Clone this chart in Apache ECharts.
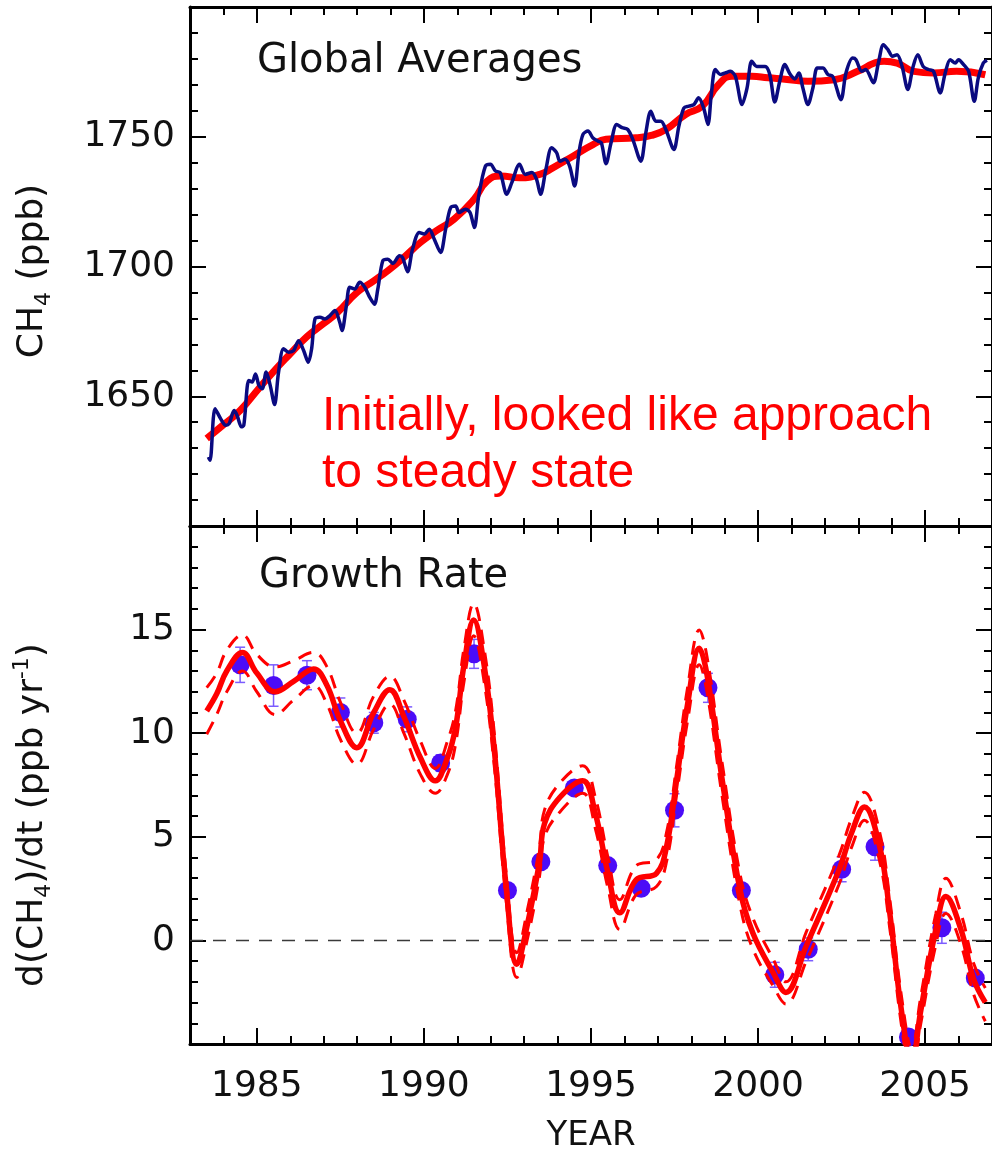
<!DOCTYPE html>
<html><head><meta charset="utf-8">
<script src="https://cdn.jsdelivr.net/npm/echarts@6.0.0/dist/echarts.min.js"></script>
<style>html,body{margin:0;padding:0;background:#fff}#chart{width:992px;height:1154px}</style>
</head><body><div id="chart"></div>
<script>
// ---------- data ----------
const majorYears = [1985, 1990, 1995, 2000, 2005];
const minorYears = [1984, 1986, 1987, 1988, 1989, 1991, 1992, 1993, 1994, 1996, 1997, 1998, 1999, 2001, 2002, 2003, 2004, 2006];

// Global average CH4 (ppb), blue curve [year, ppb]
const ch4Global = [[1983.55,1626.6],[1983.6,1625.3],[1983.75,1645.2],[1983.92,1641.3],[1984.07,1638.8],[1984.17,1639.4],[1984.32,1644.5],[1984.41,1642.6],[1984.54,1638.2],[1984.61,1638.8],[1984.76,1656.1],[1984.86,1655.5],[1984.96,1658.6],[1985.06,1654.2],[1985.16,1652.9],[1985.28,1659.3],[1985.4,1654.2],[1985.53,1646.8],[1985.65,1659.3],[1985.8,1668.3],[1985.95,1667],[1986.1,1667.6],[1986.25,1671.4],[1986.4,1667.6],[1986.54,1663.1],[1986.64,1668.3],[1986.74,1679.8],[1986.89,1680.4],[1987.04,1679.8],[1987.19,1681.1],[1987.34,1683],[1987.48,1678.5],[1987.55,1675.3],[1987.68,1684.9],[1987.78,1692],[1987.93,1691.3],[1988.08,1693.9],[1988.23,1692],[1988.38,1688.1],[1988.52,1685.5],[1988.62,1691.3],[1988.77,1702.2],[1988.92,1702.8],[1989.07,1701.2],[1989.27,1704.1],[1989.36,1703.5],[1989.51,1698],[1989.66,1706.7],[1989.86,1713.1],[1990.01,1712.5],[1990.16,1714.4],[1990.31,1710.5],[1990.5,1705.4],[1990.65,1714.4],[1990.8,1722.7],[1990.95,1723.3],[1991.05,1720.8],[1991.24,1722.1],[1991.38,1720.8],[1991.51,1715],[1991.64,1727.2],[1991.84,1738.7],[1991.99,1739.4],[1992.14,1736.8],[1992.28,1736.2],[1992.48,1727.8],[1992.63,1732.3],[1992.86,1739.4],[1993.03,1735.5],[1993.23,1736.2],[1993.37,1733.6],[1993.49,1727.8],[1993.65,1737.4],[1993.82,1745.8],[1993.97,1743.9],[1994.07,1740.6],[1994.22,1741.3],[1994.36,1738.7],[1994.51,1731],[1994.64,1743.9],[1994.76,1750.9],[1994.91,1752.2],[1995.06,1749.5],[1995.21,1748.3],[1995.31,1747.7],[1995.45,1739.6],[1995.6,1747.7],[1995.77,1754.7],[1995.93,1753.5],[1996.1,1752.8],[1996.25,1749],[1996.49,1740.6],[1996.64,1751.5],[1996.79,1759.8],[1996.94,1756],[1997.09,1756],[1997.24,1752.8],[1997.48,1745.1],[1997.63,1754.1],[1997.78,1761.1],[1997.93,1761.8],[1998.08,1762.4],[1998.22,1765],[1998.37,1761.1],[1998.5,1754.7],[1998.6,1766.3],[1998.72,1775.9],[1998.87,1774],[1999.02,1774.6],[1999.17,1775.2],[1999.32,1773.3],[1999.52,1762.4],[1999.67,1768.8],[1999.81,1779.1],[1999.96,1777.1],[2000.21,1777.1],[2000.35,1774],[2000.5,1763.4],[2000.65,1771.5],[2000.8,1777.8],[2000.95,1774.3],[2001.1,1772.3],[2001.22,1774.6],[2001.34,1768.8],[2001.49,1762.4],[2001.64,1768.8],[2001.77,1776.5],[2001.94,1776.5],[2002.09,1774],[2002.23,1773.3],[2002.48,1764.3],[2002.63,1774.6],[2002.83,1780.3],[2002.93,1779.7],[2003.1,1775.2],[2003.22,1775.9],[2003.45,1770.8],[2003.6,1778.4],[2003.75,1785.5],[2003.89,1783.5],[2004.02,1781],[2004.16,1781.6],[2004.31,1777.1],[2004.48,1768.2],[2004.64,1777.1],[2004.78,1781.6],[2004.94,1777.1],[2005.1,1775.9],[2005.25,1775.2],[2005.45,1766.9],[2005.6,1774.6],[2005.75,1779.7],[2005.9,1778.4],[2006,1779.7],[2006.15,1777.8],[2006.3,1775.2],[2006.47,1763.7],[2006.59,1772.7],[2006.74,1778.4],[2006.85,1779.5]];

// Smoothed trend (ppb), red curve [year, ppb]
const ch4Trend = [[1983.5,1633.7],[1984,1639],[1984.5,1644.5],[1985.06,1653],[1985.5,1659.5],[1985.95,1665.7],[1986.5,1673],[1987,1678],[1987.43,1682.5],[1988,1690],[1988.5,1694.5],[1988.92,1698.4],[1989.4,1703.5],[1989.9,1709.3],[1990.4,1714],[1990.9,1718.2],[1991.5,1725.9],[1991.89,1732.9],[1992.3,1734.9],[1992.87,1734.2],[1993.47,1735.5],[1993.87,1738.1],[1994.46,1742.5],[1995.06,1747],[1995.45,1749],[1996.34,1749.6],[1996.8,1750.5],[1997.24,1752.8],[1997.83,1758.6],[1998.33,1761.8],[1998.82,1770.1],[1999.22,1773.3],[1999.81,1773.3],[2000.3,1772.7],[2000.8,1772.2],[2001.49,1771.4],[2002.28,1772],[2002.98,1775.2],[2003.5,1778.5],[2003.77,1779.1],[2004.16,1778.4],[2004.66,1775.2],[2005.25,1774.6],[2005.94,1775.2],[2006.8,1773.9]];

// Growth rate curve (ppb/yr) with its uncertainty envelope
const growthYears = [1983.5,1983.8,1984.1,1984.57,1985.0,1985.55,1986.1,1986.7,1987.1,1987.5,1987.99,1988.5,1988.98,1989.4,1989.9,1990.34,1990.7,1990.95,1991.2,1991.49,1991.8,1992.1,1992.47,1992.78,1993.1,1993.46,1993.61,1994.07,1994.75,1995.13,1995.51,1995.86,1996.35,1996.96,1997.26,1997.56,1997.9,1998.24,1998.47,1998.93,1999.46,1999.84,2000.45,2000.83,2001.44,2002.42,2002.8,2003.18,2003.64,2003.94,2004.3,2004.6,2004.86,2005.32,2005.62,2006.07,2006.45,2006.8];
const growthRate  = [11.07,11.9,13.0,13.9,12.9,12.0,12.5,13.1,12.3,10.6,9.3,11.0,12.1,10.8,8.8,7.7,8.8,10.3,13.3,15.46,13.3,9.3,2.44,-1.15,0.8,3.8,5.64,6.91,7.71,6.12,3.24,1.33,2.92,3.24,4.52,7.71,11.5,14.1,12.83,7.71,2.44,0.37,-1.55,-2.51,-0.27,3.4,5.2,6.44,4.52,1.33,-3.5,-5.9,-3.47,0.53,2.12,0.53,-1.87,-2.99];
const growthUpper = [12.2,12.9,14.0,14.74,13.8,13.2,13.5,13.9,13.2,11.5,10.0,11.8,12.75,11.6,9.6,8.3,9.6,11.1,14.1,16.26,14.1,10.1,3.1,-0.6,1.5,4.5,6.3,7.6,8.43,6.9,4.0,1.96,3.6,3.9,5.2,8.4,12.3,14.98,13.7,8.5,3.2,1.1,-0.9,-2.0,0.4,4.1,5.9,7.15,5.2,2.0,-2.8,-5.2,-2.8,1.3,3.0,1.3,-1.1,-2.3];
const growthLower = [9.95,10.9,12.0,13.0,12.0,10.9,11.6,12.3,11.4,9.7,8.5,10.2,11.4,10.0,8.0,7.1,8.0,9.5,12.5,14.7,12.5,8.5,1.8,-1.79,0.1,3.1,5.0,6.2,7.1,5.4,2.5,0.53,2.2,2.6,3.8,7.0,10.7,13.3,12.0,6.9,1.7,-0.4,-2.2,-3.07,-1.0,2.7,4.5,5.8,3.8,0.6,-4.2,-6.6,-4.1,-0.2,1.3,-0.2,-2.6,-3.9];

// Annual growth rates (blue dots) with error bars
const annualYears  = [1984.5,1985.5,1986.5,1987.5,1988.5,1989.5,1990.5,1991.5,1992.5,1993.5,1994.5,1995.5,1996.5,1997.5,1998.5,1999.5,2000.5,2001.5,2002.5,2003.5,2004.5,2005.5,2006.5];
const annualRates  = [13.3,12.3,12.8,11.0,10.5,10.67,8.56,13.83,2.41,3.8,7.36,3.61,2.52,6.28,12.19,2.41,-1.66,-0.43,3.43,4.52,-4.66,0.61,-1.82];
const annualErrors = [0.85,1.0,0.7,0.7,0.5,0.6,0.4,0.7,0.3,0.3,0.3,0.3,0.3,0.8,0.7,0.3,0.6,0.55,0.6,0.65,0.3,0.75,0.3];

const topTicks = [1650, 1700, 1750];
const bottomTicks = [0, 5, 10, 15];

// ---------- chart ----------
const FONT = '"DejaVu Sans", sans-serif';
const X_MIN = 1983, X_MAX = 2007;
const chart = echarts.init(document.getElementById('chart'), null, {renderer: 'canvas'});

function zip(xs, ys) { return xs.map((x, i) => [x, ys[i]]); }

function xAx(gridIndex, position, ticks, len, showLine, extra) {
  return Object.assign({
    type: 'value', gridIndex, position, min: X_MIN, max: X_MAX,
    axisLine: {show: showLine, onZero: false, lineStyle: {color: '#000', width: 3}},
    axisTick: {show: true, inside: true, length: len, customValues: ticks, lineStyle: {color: '#000', width: 2}},
    axisLabel: {show: false},
    splitLine: {show: false}
  }, extra || {});
}
function yAx(gridIndex, position, min, max, interval, shown, withLabels) {
  return {
    type: 'value', gridIndex, position, min, max, interval,
    axisLine: {show: true, onZero: false, lineStyle: {color: '#000', width: 3}},
    axisTick: {show: true, inside: true, length: 16, lineStyle: {color: '#000', width: 2}},
    minorTick: {show: true, splitNumber: 5, length: 8, lineStyle: {color: '#000', width: 2}},
    axisLabel: {show: withLabels, margin: 15, fontSize: 36, fontFamily: FONT, color: '#111',
      formatter: v => shown.indexOf(v) >= 0 ? String(v) : ''},
    splitLine: {show: false}
  };
}

const option = {
  animation: false,
  backgroundColor: '#fff',
  grid: [
    {left: 190, top: 7, width: 806, height: 519},
    {left: 190, top: 526, width: 806, height: 519}
  ],
  xAxis: [
    xAx(0, 'bottom', majorYears, 16, true),
    xAx(0, 'bottom', minorYears, 8, false),
    xAx(0, 'top', majorYears, 16, true),
    xAx(0, 'top', minorYears, 8, false),
    xAx(1, 'bottom', majorYears, 16, true, {
      axisLabel: {show: true, customValues: majorYears, margin: 25, fontSize: 36, fontFamily: FONT, color: '#111',
        formatter: v => String(Math.round(v))},
      name: 'YEAR', nameLocation: 'middle', nameGap: 75,
      nameTextStyle: {fontSize: 34, fontFamily: FONT, color: '#111'}
    }),
    xAx(1, 'bottom', minorYears, 8, false),
    xAx(1, 'top', majorYears, 16, true),
    xAx(1, 'top', minorYears, 8, false)
  ],
  yAxis: [
    yAx(0, 'left', 1600, 1800, 50, topTicks, true),
    yAx(0, 'right', 1600, 1800, 50, [], false),
    yAx(1, 'left', -5, 20, 5, bottomTicks, true),
    yAx(1, 'right', -5, 20, 5, [], false)
  ],
  graphic: [
    {type: 'text', x: 257, y: 62, style: {text: 'Global Averages', font: '40px ' + FONT, fill: '#111', align: 'left', verticalAlign: 'middle'}},
    {type: 'text', x: 259, y: 577, style: {text: 'Growth Rate', font: '40px ' + FONT, fill: '#111', align: 'left', verticalAlign: 'middle'}},
    {type: 'text', x: 322, y: 388, style: {text: 'Initially, looked like approach\nto steady state', font: '48px "Liberation Sans", Arial, sans-serif', fill: '#ff0000', lineHeight: 57, align: 'left', verticalAlign: 'top'}},
    {type: 'text', x: 33, y: 271, rotation: Math.PI / 2, style: {
      text: '{n|CH}{s|4}{n| (ppb)}', align: 'center', verticalAlign: 'middle',
      rich: {n: {fontSize: 36, fontFamily: FONT, fill: '#111', lineHeight: 44},
             s: {fontSize: 22, fontFamily: FONT, fill: '#111', verticalAlign: 'bottom', lineHeight: 44}}}},
    {type: 'text', x: 33, y: 815, rotation: Math.PI / 2, style: {
      text: '{n|d(CH}{s|4}{n|)/dt (ppb yr}{p|-1}{n|)}', align: 'center', verticalAlign: 'middle',
      rich: {n: {fontSize: 36, fontFamily: FONT, fill: '#111', lineHeight: 44},
             s: {fontSize: 22, fontFamily: FONT, fill: '#111', verticalAlign: 'bottom', lineHeight: 44},
             p: {fontSize: 22, fontFamily: FONT, fill: '#111', verticalAlign: 'top', lineHeight: 44}}}}
  ],
  series: [
    {type: 'line', name: 'trend', xAxisIndex: 0, yAxisIndex: 0, data: ch4Trend, smooth: 0.5, showSymbol: false,
      lineStyle: {color: '#ff0000', width: 7}},
    {type: 'line', name: 'global', xAxisIndex: 0, yAxisIndex: 0, data: ch4Global, smooth: 0.3, showSymbol: false,
      lineStyle: {color: '#0a0a80', width: 3.5}},
    {type: 'line', name: 'zero', xAxisIndex: 4, yAxisIndex: 2, data: [[X_MIN, 0], [X_MAX, 0]], showSymbol: false,
      lineStyle: {color: '#3a3a3a', width: 1.5, type: [13, 10]}},
    {type: 'line', name: 'upper', xAxisIndex: 4, yAxisIndex: 2, data: zip(growthYears, growthUpper), smooth: 0.4, showSymbol: false,
      lineStyle: {color: '#ff0000', width: 3, type: [14, 9]}},
    {type: 'line', name: 'lower', xAxisIndex: 4, yAxisIndex: 2, data: zip(growthYears, growthLower), smooth: 0.4, showSymbol: false,
      lineStyle: {color: '#ff0000', width: 3, type: [14, 9]}},
    {type: 'line', name: 'rate', xAxisIndex: 4, yAxisIndex: 2, data: zip(growthYears, growthRate), smooth: 0.4, showSymbol: false,
      lineStyle: {color: '#ff0000', width: 5.5}},
    {type: 'custom', name: 'errors', xAxisIndex: 4, yAxisIndex: 2,
      data: annualYears.map((x, i) => [x, annualRates[i], annualErrors[i]]),
      renderItem: function (params, api) {
        const x = api.value(0), y = api.value(1), e = api.value(2);
        const t = api.coord([x, y + e]), b = api.coord([x, y - e]);
        const st = {stroke: '#7b5cff', lineWidth: 1.5};
        return {type: 'group', children: [
          {type: 'line', shape: {x1: t[0], y1: t[1], x2: b[0], y2: b[1]}, style: st},
          {type: 'line', shape: {x1: t[0] - 5, y1: t[1], x2: t[0] + 5, y2: t[1]}, style: st},
          {type: 'line', shape: {x1: b[0] - 5, y1: b[1], x2: b[0] + 5, y2: b[1]}, style: st}
        ]};
      }},
    {type: 'scatter', name: 'annual', xAxisIndex: 4, yAxisIndex: 2, data: zip(annualYears, annualRates),
      symbolSize: 19, itemStyle: {color: '#4b0cf7', opacity: 1}}
  ]
};
chart.setOption(option);
</script></body></html>
